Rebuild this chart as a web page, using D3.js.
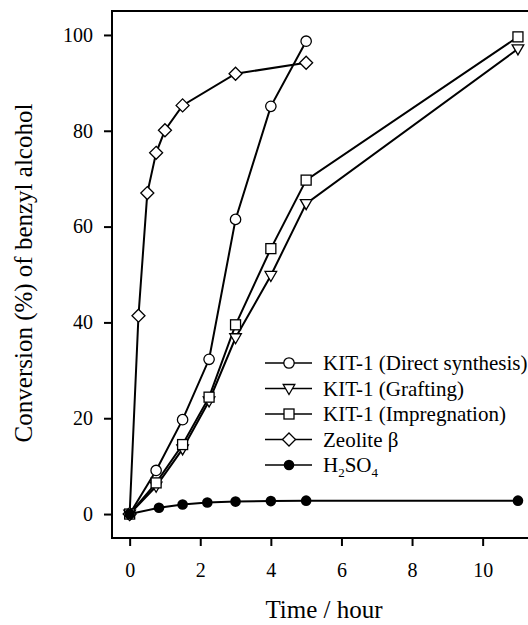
<!DOCTYPE html>
<html>
<head>
<meta charset="utf-8">
<script src="https://cdn.jsdelivr.net/npm/d3@7"></script>
<style>
  body { margin: 0; background: white; }
  svg { display: block; font-family: "Liberation Serif", "Times New Roman", serif; }
</style>
</head>
<body>
<div id="chart"></div>
<script>
const width = 528;
const height = 625;

// time (hour)
const tDirect = [0, 0.75, 1.5, 2.25, 3, 4, 5];
const vDirect = [0, 9.1, 19.7, 32.3, 61.5, 85.1, 98.7];

const tGraft = [0, 0.75, 1.5, 2.25, 3, 4, 5, 11];
const vGraft = [0, 5.8, 13.6, 23.6, 36.8, 49.8, 64.8, 97.1];

const tImpreg = [0, 0.75, 1.5, 2.25, 3, 4, 5, 11];
const vImpreg = [0, 6.5, 14.5, 24.4, 39.5, 55.4, 69.7, 99.6];

const tZeolite = [0, 0.25, 0.5, 0.75, 1, 1.5, 3, 5];
const vZeolite = [0, 41.4, 67.0, 75.4, 80.1, 85.3, 91.9, 94.2];

const tAcid = [0, 0.83, 1.5, 2.2, 3, 4, 5, 11];
const vAcid = [0, 1.3, 2.0, 2.4, 2.6, 2.7, 2.8, 2.8];

const seriesNames = ["KIT-1 (Direct synthesis)", "KIT-1 (Grafting)", "KIT-1 (Impregnation)", "Zeolite \u03B2", "H2SO4"];
const xTicks = [0, 2, 4, 6, 8, 10];
const yTicks = [0, 20, 40, 60, 80, 100];

const series = [
  { name: seriesNames[0], t: tDirect, v: vDirect, shape: "circle" },
  { name: seriesNames[1], t: tGraft, v: vGraft, shape: "triangle" },
  { name: seriesNames[2], t: tImpreg, v: vImpreg, shape: "square" },
  { name: seriesNames[3], t: tZeolite, v: vZeolite, shape: "diamond" },
  { name: seriesNames[4], t: tAcid, v: vAcid, shape: "dot" }
];

const margin = { top: 11, right: 0, bottom: 87, left: 112 };

const svg = d3.select("#chart").append("svg")
  .attr("width", width)
  .attr("height", height);

const x = d3.scaleLinear()
  .domain([-0.5, 11.35])
  .range([margin.left, margin.left + 35.3 * 11.85]);

const y = d3.scaleLinear()
  .domain([-5, 105])
  .range([height - margin.bottom, margin.top]);

// frame
const x0 = x.range()[0], x1 = x.range()[1];
const yTop = y.range()[1], yBot = y.range()[0];
svg.append("path")
  .attr("d", `M${x0},${yTop}H${x1}V${yBot}H${x0}Z`)
  .attr("fill", "none")
  .attr("stroke", "black")
  .attr("stroke-width", 2);

function xAxis(g) {
  g.attr("transform", `translate(0, ${yBot})`)
    .call(d3.axisBottom(x).tickValues(xTicks).tickSize(8).tickPadding(17).tickFormat(d3.format("d")))
    .call(g => g.select(".domain").remove())
    .call(g => g.selectAll("line").attr("stroke-width", 2))
    .call(g => g.selectAll("text").attr("font-size", 20).attr("font-family", "Liberation Serif").attr("fill", "black"));
}
function yAxis(g) {
  g.attr("transform", `translate(${x0}, 0)`)
    .call(d3.axisLeft(y).tickValues(yTicks).tickSize(8).tickPadding(11).tickFormat(d3.format("d")))
    .call(g => g.select(".domain").remove())
    .call(g => g.selectAll("line").attr("stroke-width", 2))
    .call(g => g.selectAll("text").attr("font-size", 20).attr("font-family", "Liberation Serif").attr("fill", "black"));
}
svg.append("g").call(xAxis);
svg.append("g").call(yAxis);

// axis titles
svg.append("text")
  .attr("x", 324)
  .attr("y", 618)
  .attr("text-anchor", "middle")
  .attr("font-size", 25)
  .text("Time / hour");

svg.append("text")
  .attr("transform", `translate(32, 273) rotate(-90)`)
  .attr("text-anchor", "middle")
  .attr("font-size", 25)
  .text("Conversion (%) of benzyl alcohol");

// markers
function drawMarker(g, shape, cx, cy) {
  if (shape === "circle") {
    g.append("circle").attr("cx", cx).attr("cy", cy).attr("r", 5.2)
      .attr("fill", "white").attr("stroke", "black").attr("stroke-width", 1.3);
  } else if (shape === "dot") {
    g.append("circle").attr("cx", cx).attr("cy", cy).attr("r", 5.3)
      .attr("fill", "black");
  } else if (shape === "square") {
    g.append("rect").attr("x", cx - 5).attr("y", cy - 5).attr("width", 10).attr("height", 10)
      .attr("fill", "white").attr("stroke", "black").attr("stroke-width", 1.3);
  } else if (shape === "diamond") {
    g.append("path").attr("d", `M${cx},${cy - 6.5}L${cx + 6.5},${cy}L${cx},${cy + 6.5}L${cx - 6.5},${cy}Z`)
      .attr("fill", "white").attr("stroke", "black").attr("stroke-width", 1.3);
  } else if (shape === "triangle") {
    g.append("path").attr("d", `M${cx - 5.8},${cy - 4}L${cx + 5.8},${cy - 4}L${cx},${cy + 6}Z`)
      .attr("fill", "white").attr("stroke", "black").attr("stroke-width", 1.3);
  }
}

const line = d3.line().x(d => x(d[0])).y(d => y(d[1]));

// lines first, then markers on top
series.forEach(s => {
  const pts = s.t.map((t, i) => [t, s.v[i]]);
  svg.append("path")
    .datum(pts)
    .attr("d", line)
    .attr("fill", "none")
    .attr("stroke", "black")
    .attr("stroke-width", 2);
});
series.forEach(s => {
  const g = svg.append("g");
  s.t.forEach((t, i) => drawMarker(g, s.shape, x(t), y(s.v[i])));
});

// legend
const legend = svg.append("g");
series.forEach((s, i) => {
  const ly = 363 + i * 25.5;
  legend.append("line")
    .attr("x1", 265).attr("x2", 312)
    .attr("y1", ly).attr("y2", ly)
    .attr("stroke", "black").attr("stroke-width", 1.6);
  drawMarker(legend, s.shape, 289, ly);
  const txt = legend.append("text")
    .attr("x", 323)
    .attr("y", ly + 7)
    .attr("font-size", 21);
  if (s.shape === "dot") {
    txt.append("tspan").text("H");
    txt.append("tspan").attr("font-size", 13).attr("dy", 5).text("2");
    txt.append("tspan").attr("dy", -5).text("SO");
    txt.append("tspan").attr("font-size", 13).attr("dy", 5).text("4");
  } else {
    txt.text(s.name);
  }
});
</script>
</body>
</html>
